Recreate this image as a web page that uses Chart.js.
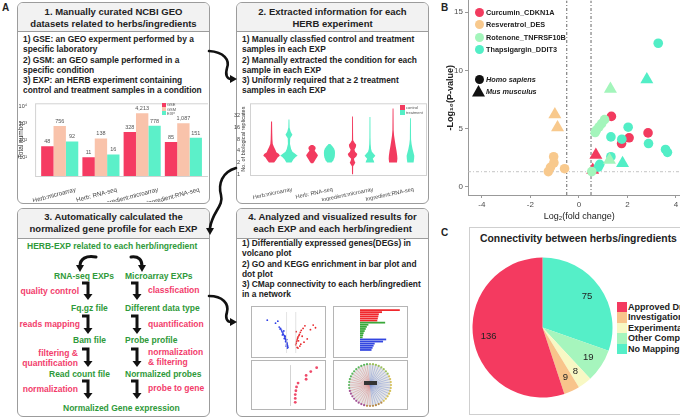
<!DOCTYPE html>
<html>
<head>
<meta charset="utf-8">
<script src="https://cdn.jsdelivr.net/npm/chart.js@4.4.1/dist/chart.umd.min.js"></script>
<style>
  body { margin:0; width:680px; height:417px; overflow:hidden; position:relative; background:#fff;
         font-family:"Liberation Sans", Arial, sans-serif; color:#222; }
  .box { position:absolute; border:1.5px solid #9c9c9c; border-radius:6px; box-sizing:border-box; background:#fff; overflow:hidden; }
  .hd { position:absolute; left:0; right:0; top:0; background:#f2f2f2; border-bottom:1.5px solid #9c9c9c;
        text-align:center; font-weight:bold; font-size:9.5px; line-height:11.5px; box-sizing:border-box; }
  .body { position:absolute; font-weight:bold; font-size:8.4px; line-height:10.3px; white-space:nowrap; }
  .t { position:absolute; font-weight:bold; font-size:8.5px; line-height:10px; white-space:nowrap; }
  .g { color:#2f9a3a; }
  .p { color:#f23d6c; }
  .lab { position:absolute; font-weight:bold; font-size:10px; }
  canvas { position:absolute; }
  .thumb { position:absolute; border:1px solid #b5b5b5; box-sizing:border-box; background:#fff; }
  .sq { position:absolute; }
  .tiny { position:absolute; font-size:4px; color:#555; white-space:nowrap; line-height:4.5px; }
  .leg { position:absolute; font-weight:bold; font-size:7.3px; white-space:nowrap; line-height:9px; }
  .pleg { position:absolute; font-weight:bold; font-size:9px; white-space:nowrap; line-height:10.4px; }
</style>
</head>
<body>

<div class="lab" style="left:2px;top:2px">A</div>
<div class="lab" style="left:441px;top:2px">B</div>
<div class="lab" style="left:441px;top:227px">C</div>

<!-- box 1 -->
<div class="box" style="left:17px;top:2px;width:193px;height:202px">
  <div class="hd" style="height:29px;padding-top:3px">1. Manually curated NCBI GEO<br>datasets related to herbs/ingredients</div>
</div>
<div class="body" style="left:23px;top:34px">1) GSE: an GEO experment performed by a<br>specific laboratory<br>2) GSM: an GEO sample performed in a<br>specific condition<br>3) EXP: an HERB experiment containing<br>control and treatment samples in a condition</div>

<!-- box 2 -->
<div class="box" style="left:236px;top:2px;width:193px;height:202px">
  <div class="hd" style="height:29px;padding-top:3px">2. Extracted information for each<br>HERB experiment</div>
</div>
<div class="body" style="left:242px;top:34px">1) Manually classfied control and treatment<br>samples in each EXP<br>2) Mannally extracted the condition for each<br>sample in each EXP<br>3) Uniformly required that ≥ 2 treatment<br>samples in each EXP</div>

<!-- box 3 -->
<div class="box" style="left:17px;top:208px;width:193px;height:209px">
  <div class="hd" style="height:30px;padding-top:2px">3. Automatically calculated the<br>normalized gene profile for each EXP</div>
</div>
<div class="t g" style="left:27px;top:241px">HERB-EXP related to each herb/ingredient</div>
<div class="t g" style="left:54px;top:271px">RNA-seq EXPs</div>
<div class="t g" style="left:125px;top:271px">Microarray EXPs</div>
<div class="t p" style="right:601px;top:286px">quality control</div>
<div class="t p" style="left:148px;top:285px">classfication</div>
<div class="t g" style="left:71px;top:303px">Fq.gz file</div>
<div class="t g" style="left:125px;top:303px">Different data type</div>
<div class="t p" style="right:600px;top:319px">reads mapping</div>
<div class="t p" style="left:148px;top:319px">quantification</div>
<div class="t g" style="left:73px;top:335px">Bam file</div>
<div class="t g" style="left:125px;top:335px">Probe profile</div>
<div class="t p" style="right:602px;top:348px;text-align:right">filtering &amp;<br>quantification</div>
<div class="t p" style="left:148px;top:347px">normalization<br>&amp; filtering</div>
<div class="t g" style="left:49px;top:369px">Read count file</div>
<div class="t g" style="left:125px;top:369px">Normalized probes</div>
<div class="t p" style="right:602px;top:384px">normalization</div>
<div class="t p" style="left:148px;top:383px">probe to gene</div>
<div class="t g" style="left:63px;top:403px">Normalized Gene expression</div>

<!-- box 4 -->
<div class="box" style="left:236px;top:208px;width:193px;height:209px">
  <div class="hd" style="height:30px;padding-top:2px">4. Analyzed and visualized results for<br>each EXP and each herb/ingredient</div>
</div>
<div class="body" style="left:242px;top:238px">1) Differentially expressed genes(DEGs) in<br>volcano plot<br>2) GO and KEGG enrichment in bar plot and<br>dot plot<br>3) CMap connectivity to each herb/ingredient<br>in a network</div>
<div class="thumb" style="left:251px;top:306px;width:75px;height:52px"></div>
<div class="thumb" style="left:333px;top:306px;width:75px;height:52px"></div>
<div class="thumb" style="left:251px;top:360px;width:75px;height:50px"></div>
<div class="thumb" style="left:333px;top:360px;width:75px;height:50px"></div>

<!-- panel C frame -->
<div style="position:absolute;left:469px;top:227px;width:230px;height:188px;border:1.5px solid #cfcfcf;box-sizing:border-box"></div>
<div style="position:absolute;left:480px;top:233px;font-weight:bold;font-size:10.4px;white-space:nowrap">Connectivity between herbs/ingredients</div>

<!-- charts -->
<canvas id="countChart" width="196" height="106" style="left:12px;top:96px"></canvas>
<canvas id="violinChart" width="194" height="113" style="left:234px;top:88px"></canvas>
<canvas id="volcanoChart" width="258" height="229" style="left:440px;top:-7px"></canvas>
<canvas id="pieChart" width="145" height="145" style="left:470px;top:255px"></canvas>
<canvas id="thumbVolcano" width="73" height="50" style="left:252px;top:307px"></canvas>
<canvas id="thumbBars" width="73" height="50" style="left:334px;top:307px"></canvas>
<canvas id="thumbDots" width="73" height="48" style="left:252px;top:361px"></canvas>
<canvas id="thumbNet" width="73" height="48" style="left:334px;top:361px"></canvas>

<!-- small legends -->
<div class="sq" style="left:162px;top:103px;width:4px;height:4px;background:#f53b62"></div>
<div class="sq" style="left:162px;top:107px;width:4px;height:4px;background:#f9c3ab"></div>
<div class="sq" style="left:162px;top:111px;width:4px;height:4px;background:#5cf0c9"></div>
<div class="tiny" style="left:167px;top:103px">GSE<br>GSM<br>EXP</div>

<div class="sq" style="left:400px;top:105px;width:5px;height:5px;background:#f23b5f"></div>
<div class="sq" style="left:400px;top:110px;width:5px;height:5px;background:#55eec6"></div>
<div class="tiny" style="left:406px;top:105px;line-height:5px">control<br>treatment</div>

<div id="volcanoLegend"></div>
<div id="pieLegend"></div>
<div style="position:absolute;left:364px;top:381px;width:13px;height:4px;background:#333"></div>

<svg width="680" height="417" style="position:absolute;left:0;top:0" fill="none" stroke="#111" stroke-width="2.6" stroke-linecap="round">
  <path d="M209,51 C224,52 230,60 227,68 C225,75 227,79 231,79"/>
  <polygon points="230,75 237,79 230,83" fill="#111" stroke="none"/>
  <path d="M236,168 C222,172 218,184 221,195 C224,206 212,212 210,228"/>
  <polygon points="206,228 210,235 214,228" fill="#111" stroke="none"/>
  <path d="M209,296 C223,296 229,304 227,312 C225,318 227,322 231,322"/>
  <polygon points="230,318 237,322 230,326" fill="#111" stroke="none"/>
  <g stroke-width="3">
    <path d="M96,257 C86,255 80,259 80,266"/>
    <polygon points="76,265 80,272 84,265" fill="#111" stroke="none"/>
    <path d="M131,257 C139,256 142,260 142,266"/>
    <polygon points="138,265 142,272 146,265" fill="#111" stroke="none"/>
  </g>
  <g id="flowArrows" stroke-width="3" stroke-linecap="butt"></g>
</svg>

<script>
// ---------- data ----------
const geoGroups = ['Herb:microarray', 'Herb: RNA-seq', 'Ingredient:microarray', 'Ingredient:RNA-seq'];
const gseCounts = [48, 11, 328, 85];
const gsmCounts = [756, 138, 4213, 1087];
const expCounts = [92, 16, 778, 151];
const countTicks = [10, 100, 1000, 10000];

const replicateTicks = [1, 2, 4, 8, 16, 32];
// violin outlines: [replicates, relative half width]
const controlViolins = [
  [[2,0.3],[2.3,0.5],[2.7,0.7],[3,0.95],[3.3,0.85],[3.7,0.55],[4.2,0.45],[5,0.28],[6,0.14],[8,0.1],[12,0.08],[23,0.06]],
  [[1.9,0.12],[2.1,0.25],[2.4,0.4],[2.8,0.6],[3.1,0.68],[3.5,0.5],[4,0.3],[4.6,0.42],[5.1,0.38],[5.7,0.12]],
  [[1,0.06],[1.6,0.07],[1.8,0.22],[2,0.32],[2.2,0.22],[2.5,0.16],[2.9,0.45],[3.3,0.55],[3.8,0.3],[4.3,0.22],[5,0.38],[5.8,0.42],[6.6,0.22],[7.5,0.07],[12,0.06],[31,0.05]],
  [[2,0.45],[2.5,0.5],[3,0.48],[4,0.4],[5,0.32],[7,0.22],[10,0.12],[14,0.07],[50,0.05]]
];
const treatmentViolins = [
  [[2,0.3],[2.4,0.5],[2.8,0.8],[3,1],[3.3,0.75],[3.8,0.4],[4.5,0.25],[6,0.12],[8.5,0.14],[10.5,0.4],[12.5,0.2],[16,0.07],[26,0.05]],
  [[2,0.25],[2.3,0.45],[2.7,0.58],[3,0.62],[3.5,0.64],[4,0.62],[4.6,0.52],[5.2,0.36],[6,0.1]],
  [[2,0.5],[2.2,0.45],[2.5,0.32],[2.8,0.52],[3,0.62],[3.3,0.45],[3.8,0.22],[4.5,0.13],[6,0.08],[9,0.06],[30,0.05]],
  [[2,0.36],[2.5,0.42],[3,0.44],[3.5,0.36],[4.5,0.24],[6,0.13],[8,0.07],[28,0.05]]
];

const compoundNames = ['Curcumin_CDKN1A', 'Resveratrol_DES', 'Rotenone_TNFRSF10B', 'Thapsigargin_DDIT3'];
const compoundColors = ['#f23b5f', '#f8c98d', '#a3f5bb', '#52eec6'];
// log2 fold change, -log10 p, species (h = Homo sapiens, m = Mus musculus)
const curcuminFC = [1.34, 2.85, 2.07, 1.76, 0.70, 0.57];
const curcuminP = [6.05, 4.63, 4.21, 3.72, 2.73, 1.45];
const curcuminSp = ['h', 'h', 'h', 'h', 'm', 'm'];
const resveratrolFC = [-0.99, -0.88, -1.04, -1.03, -1.17, -1.26, -0.59];
const resveratrolP = [6.22, 5.09, 2.59, 2.07, 1.68, 1.31, 1.56];
const resveratrolSp = ['m', 'm', 'h', 'h', 'h', 'h', 'h'];
const rotenoneFC = [1.06, 0.94, 0.83, 0.72, 0.67, 0.53, 1.30, 1.26];
const rotenoneP = [5.77, 5.43, 5.15, 4.86, 4.66, 1.31, 8.41, 2.30];
const rotenoneSp = ['h', 'h', 'h', 'h', 'h', 'h', 'm', 'm'];
const thapsigarginFC = [3.27, 2.03, 1.32, 1.77, 2.87, 3.57, 3.65, 1.32, 0.86, 0.80, 2.80, 1.80];
const thapsigarginP = [12.33, 5.12, 4.29, 4.09, 3.72, 3.21, 2.96, 2.59, 1.93, 1.70, 9.21, 2.02];
const thapsigarginSp = ['h', 'h', 'h', 'h', 'h', 'h', 'h', 'h', 'h', 'h', 'm', 'm'];
const fcCutoffs = [-0.5, 0.5];
const pCutoff = 1.3;
const fcTicks = [-4, -2, 0, 2, 4];
const pTicks = [0, 5, 10, 15];

const drugClasses = ['Approved Drug', 'Investigational Drug', 'Experimental Drug', 'Other Compound', 'No Mapping'];
const drugCounts = [136, 9, 8, 19, 75];
const drugColors = ['#f43a60', '#f8c48b', '#f8f8c4', '#a6f5bd', '#55efc8'];

// thumbnails in box 4
const thumbBlueFC = [-5.2, -3.4, -2.9, -2.6, -2.3, -2.1, -2.0, -1.8, -1.7, -1.5, -1.4, -1.3, -1.2, -1.1, -1.0, -0.9, -0.9, -0.8, -0.8, -0.7, -1.6, -1.9, -2.4, -1.2, -1.0, -0.95, -0.85, -1.3, -1.5, -1.1];
const thumbBlueP = [9.5, 8.6, 9.2, 7.4, 7.0, 6.5, 6.0, 5.6, 5.2, 4.8, 4.4, 4.0, 3.6, 3.2, 2.8, 2.5, 2.1, 1.8, 1.5, 1.2, 6.2, 5.0, 6.8, 3.0, 2.2, 3.6, 1.0, 4.6, 3.9, 1.6];
const thumbRedFC = [4.8, 5.3, 4.2, 3.0, 2.6, 2.2, 2.0, 1.8, 1.7, 1.5, 1.4, 1.3, 1.2, 1.1, 1.0, 1.6, 2.4, 2.8, 3.5, 1.9, 1.3, 1.1, 1.5, 2.1];
const thumbRedP = [8.0, 7.2, 6.6, 7.8, 7.0, 6.4, 5.8, 5.2, 4.8, 4.4, 4.0, 3.5, 3.0, 2.5, 2.0, 3.2, 4.6, 2.8, 3.8, 1.6, 1.2, 6.0, 1.0, 2.2];
const thumbTerms = ['BP1', 'BP2', 'BP3', 'BP4', 'BP5', 'BP6', 'CC1', 'CC2', 'CC3', 'CC4', 'CC5', 'CC6', 'CC7', 'CC8', 'MF1', 'MF2', 'MF3', 'MF4', 'MF5', 'MF6'];
const thumbScores = [38, 21, 18, 17.5, 17, 16.5, 24, 8, 6.5, 5.5, 4.5, 3.5, 3, 2.5, 25, 22, 14, 13, 12, 11];
const thumbDotRatio = [0.86, 0.67, 0.52, 0.52, 0.26, 0.21, 0.19, 0.17, 0.17, 0.17];
const thumbDotRank = [1, 2, 3, 4, 5, 6, 7, 8, 9, 10];
const netNodes = 44;

Chart.defaults.font.family = '"Liberation Sans", Arial, sans-serif';
Chart.defaults.animation = false;
Chart.defaults.responsive = false;
Chart.defaults.plugins.legend.display = false;
Chart.defaults.plugins.tooltip.enabled = false;

const supDigits = { 1: '¹', 2: '²', 3: '³', 4: '⁴' };
const greyTxt = '#4d4d4d';

// light frame around a plot area
const plotFrame = {
  id: 'plotFrame',
  beforeDraw(chart, args, opts) {
    const { left, right, top, bottom } = chart.chartArea;
    const ctx = chart.ctx;
    ctx.save();
    ctx.strokeStyle = opts.color || '#d2d2d2';
    ctx.lineWidth = 1;
    ctx.strokeRect(left - opts.padLeft + 0.5, top + 0.5, right - left + opts.padLeft + opts.padRight, bottom - top);
    ctx.restore();
  }
};

// numbers on top of the count bars
const barValueLabels = {
  id: 'barValueLabels',
  afterDatasetsDraw(chart) {
    const ctx = chart.ctx;
    ctx.save();
    ctx.font = '5.5px "Liberation Sans", Arial';
    ctx.fillStyle = '#555';
    ctx.textAlign = 'center';
    chart.data.datasets.forEach((ds, i) => {
      chart.getDatasetMeta(i).data.forEach((bar, j) => {
        ctx.fillText(ds.data[j].toLocaleString('en-US'), bar.x, bar.y - 3);
      });
    });
    ctx.restore();
  }
};

new Chart(document.getElementById('countChart'), {
  type: 'bar',
  data: {
    labels: geoGroups,
    datasets: [
      { label: 'GSE', data: gseCounts, backgroundColor: '#f53b62' },
      { label: 'GSM', data: gsmCounts, backgroundColor: '#f9c3ab' },
      { label: 'EXP', data: expCounts, backgroundColor: '#5cf0c9' }
    ]
  },
  options: {
    layout: { padding: { right: 4 } },
    datasets: { bar: { categoryPercentage: 0.9, barPercentage: 1 } },
    scales: {
      x: {
        grid: { display: false }, border: { display: false },
        ticks: { autoSkip: false, minRotation: 15, maxRotation: 15, labelOffset: 16, padding: 2, font: { size: 6.2 }, color: '#444' },
        afterFit: a => { a.height = 26; }
      },
      y: {
        type: 'logarithmic', min: 0.87, max: 16000,
        afterBuildTicks: a => { a.ticks = countTicks.map(value => ({ value })); },
        grid: { display: false }, border: { display: false },
        ticks: { autoSkip: false, font: { size: 5.5 }, color: '#444', padding: 4, callback: v => '10' + supDigits[Math.round(Math.log10(v))] },
        title: { display: true, text: 'Total number', font: { size: 6.5 }, color: '#333', padding: { top: 1, bottom: 0 } },
        afterFit: a => { a.width = 23; }
      }
    },
    plugins: { plotFrame: { padLeft: 4, padRight: 4 } }
  },
  plugins: [plotFrame, barValueLabels]
});

// violins drawn around each (invisible) floating bar
const violinDraw = {
  id: 'violinDraw',
  afterDatasetsDraw(chart) {
    const ctx = chart.ctx, yScale = chart.scales.y;
    [controlViolins, treatmentViolins].forEach((set, di) => {
      const meta = chart.getDatasetMeta(di);
      ctx.fillStyle = chart.data.datasets[di].borderColor;
      set.forEach((prof, gi) => {
        const cx = meta.data[gi].x, half = meta.data[gi].width / 2;
        ctx.beginPath();
        prof.forEach(([v, w], k) => {
          const y = yScale.getPixelForValue(v);
          if (k) ctx.lineTo(cx + w * half, y); else ctx.moveTo(cx + w * half, y);
        });
        for (let k = prof.length - 1; k >= 0; k--) {
          ctx.lineTo(cx - prof[k][1] * half, yScale.getPixelForValue(prof[k][0]));
        }
        ctx.closePath();
        ctx.fill();
      });
    });
  }
};

new Chart(document.getElementById('violinChart'), {
  type: 'bar',
  data: {
    labels: geoGroups,
    datasets: [
      { label: 'control', data: controlViolins.map(v => [v[0][0], v[v.length - 1][0]]), backgroundColor: 'rgba(0,0,0,0)', borderColor: '#f23b5f' },
      { label: 'treatment', data: treatmentViolins.map(v => [v[0][0], v[v.length - 1][0]]), backgroundColor: 'rgba(0,0,0,0)', borderColor: '#55eec6' }
    ]
  },
  options: {
    layout: { padding: { right: 6 } },
    datasets: { bar: { categoryPercentage: 0.86, barPercentage: 1, borderWidth: 0 } },
    scales: {
      x: {
        grid: { display: false }, border: { display: false },
        ticks: { autoSkip: false, minRotation: 12, maxRotation: 12, labelOffset: 12, padding: 3, font: { size: 5.6 }, color: '#444' },
        afterFit: a => { a.height = 26; }
      },
      y: {
        type: 'logarithmic', min: 0.95, max: 68,
        afterBuildTicks: a => { a.ticks = replicateTicks.map(value => ({ value })); },
        grid: { display: false }, border: { display: false },
        ticks: { autoSkip: false, font: { size: 5.5 }, color: '#444', padding: 12, callback: v => String(v) },
        title: { display: true, text: 'No. of biological replicates', font: { size: 5.6 }, color: '#333', padding: { top: 6, bottom: 0 } },
        afterFit: a => { a.width = 26; }
      }
    },
    plugins: { plotFrame: { padLeft: 10, padRight: 4 } }
  },
  plugins: [plotFrame, violinDraw]
});

// panel B volcano
function volcanoSet(label, fc, p, sp, color) {
  return {
    label, order: 0,
    data: fc.map((x, i) => ({ x, y: p[i] })),
    backgroundColor: color, borderWidth: 0,
    pointStyle: sp.map(s => (s === 'm' ? 'triangle' : 'circle')),
    pointRadius: sp.map(s => (s === 'm' ? 7.5 : 4.8))
  };
}
const cutoffLine = (pts, color) => ({
  data: pts, showLine: true, order: 5, borderColor: color, borderWidth: 0.9,
  borderDash: [3, 2, 1, 2], pointRadius: 0, fill: false
});

new Chart(document.getElementById('volcanoChart'), {
  type: 'scatter',
  data: {
    datasets: [
      cutoffLine([{ x: fcCutoffs[0], y: -0.7 }, { x: fcCutoffs[0], y: 16 }], '#555'),
      cutoffLine([{ x: fcCutoffs[1], y: -0.7 }, { x: fcCutoffs[1], y: 16 }], '#555'),
      cutoffLine([{ x: -4.57, y: pCutoff }, { x: 4.6, y: pCutoff }], '#bdbdbd'),
      volcanoSet(compoundNames[1], resveratrolFC, resveratrolP, resveratrolSp, compoundColors[1]),
      volcanoSet(compoundNames[2], rotenoneFC, rotenoneP, rotenoneSp, compoundColors[2]),
      volcanoSet(compoundNames[3], thapsigarginFC, thapsigarginP, thapsigarginSp, compoundColors[3]),
      volcanoSet(compoundNames[0], curcuminFC, curcuminP, curcuminSp, compoundColors[0])
    ]
  },
  options: {
    layout: { padding: { right: 2 } },
    scales: {
      x: {
        type: 'linear', min: -4.57, max: 4.6,
        afterBuildTicks: a => { a.ticks = fcTicks.map(value => ({ value })); },
        grid: { drawOnChartArea: false, tickLength: 3, color: '#999' },
        border: { color: '#999' },
        ticks: { autoSkip: false, font: { size: 8 }, color: greyTxt, padding: 2 },
        title: { display: true, text: 'Log₂(fold change)', font: { size: 9 }, color: '#222', padding: 0 },
        afterFit: a => { a.height = 27; }
      },
      y: {
        min: -0.7, max: 16,
        afterBuildTicks: a => { a.ticks = pTicks.map(value => ({ value })); },
        grid: { drawOnChartArea: false, tickLength: 3, color: '#999' },
        border: { color: '#999' },
        ticks: { autoSkip: false, font: { size: 8 }, color: greyTxt, padding: 2 },
        title: { display: true, text: '-Log₁₀(P-value)', font: { size: 9, weight: 'bold' }, color: '#222', padding: { top: 5, bottom: 0 } },
        afterFit: a => { a.width = 28; }
      }
    }
  }
});

// panel B legend
(function () {
  const host = document.getElementById('volcanoLegend');
  const rows = [12, 24, 37, 49];
  let html = '';
  compoundNames.forEach((name, i) => {
    html += `<div class="sq" style="left:474.5px;top:${rows[i] - 4.5}px;width:9px;height:9px;border-radius:50%;background:${compoundColors[i]}"></div>`;
    html += `<div class="leg" style="left:486px;top:${rows[i] - 4.5}px">${name}</div>`;
  });
  html += `<div class="sq" style="left:474.5px;top:74.5px;width:9px;height:9px;border-radius:50%;background:#111"></div>`;
  html += `<div class="leg" style="left:486px;top:74.5px;font-style:italic">Homo sapiens</div>`;
  html += `<svg class="sq" style="left:472px;top:85px" width="13" height="12"><polygon points="6.5,0 13,11.5 0,11.5" fill="#111"/></svg>`;
  html += `<div class="leg" style="left:486px;top:86.5px;font-style:italic">Mus musculus</div>`;
  host.innerHTML = html;
})();

// panel C pie, drawn clockwise from 12 o'clock: No Mapping first
const pieLabels = {
  id: 'pieLabels',
  afterDatasetsDraw(chart) {
    const ctx = chart.ctx;
    ctx.save();
    ctx.font = '9.5px "Liberation Sans", Arial';
    ctx.fillStyle = '#222';
    ctx.textAlign = 'center';
    ctx.textBaseline = 'middle';
    chart.getDatasetMeta(0).data.forEach((arc, i) => {
      const { x, y, startAngle, endAngle, outerRadius } = arc.getProps(['x', 'y', 'startAngle', 'endAngle', 'outerRadius']);
      const mid = (startAngle + endAngle) / 2;
      const r = outerRadius * 0.78;
      ctx.fillText(String(chart.data.datasets[0].data[i]), x + Math.cos(mid) * r, y + Math.sin(mid) * r);
    });
    ctx.restore();
  }
};
new Chart(document.getElementById('pieChart'), {
  type: 'pie',
  data: {
    labels: drugClasses.slice().reverse(),
    datasets: [{ data: drugCounts.slice().reverse(), backgroundColor: drugColors.slice().reverse(), borderWidth: 0 }]
  },
  options: { radius: 70, layout: { padding: 0 } },
  plugins: [pieLabels]
});

(function () {
  const host = document.getElementById('pieLegend');
  let html = '';
  drugClasses.forEach((name, i) => {
    const y = 302 + i * 10.4;
    html += `<div class="sq" style="left:617px;top:${y}px;width:10px;height:10.4px;background:${drugColors[i]}"></div>`;
    html += `<div class="pleg" style="left:628px;top:${y}px">${name}</div>`;
  });
  host.innerHTML = html;
})();

// flow chart arrows in box 3
(function () {
  const g = document.getElementById('flowArrows');
  const rows = [[283, 300], [316, 334], [349, 367], [381, 399]];
  let s = '';
  [88, 137].forEach(x => {
    rows.forEach(([y0, y1]) => {
      s += `<path d="M${x - 6},${y0} H${x} V${y1 - 5}"/>`;
      s += `<polygon points="${x - 4.5},${y1 - 6} ${x},${y1} ${x + 4.5},${y1 - 6}" fill="#111" stroke="none"/>`;
    });
  });
  g.innerHTML = s;
})();

// box 4 thumbnails
const hidden = { display: false };
new Chart(document.getElementById('thumbVolcano'), {
  type: 'scatter',
  data: {
    datasets: [
      { data: [{ x: -1, y: -0.5 }, { x: -1, y: 12 }], showLine: true, borderColor: '#d0d0d0', borderWidth: 0.6, pointRadius: 0 },
      { data: [{ x: 1, y: -0.5 }, { x: 1, y: 12 }], showLine: true, borderColor: '#d0d0d0', borderWidth: 0.6, pointRadius: 0 },
      { data: thumbBlueFC.map((x, i) => ({ x, y: thumbBlueP[i] })), backgroundColor: '#2f3fe6', pointRadius: 0.9, borderWidth: 0 },
      { data: thumbRedFC.map((x, i) => ({ x, y: thumbRedP[i] })), backgroundColor: '#e8262a', pointRadius: 0.9, borderWidth: 0 }
    ]
  },
  options: {
    layout: { padding: { left: 7, right: 2, top: 5, bottom: 3 } },
    scales: { x: { ...hidden, min: -7, max: 6.5 }, y: { ...hidden, min: -0.5, max: 12 } }
  }
});

new Chart(document.getElementById('thumbBars'), {
  type: 'bar',
  data: {
    labels: thumbTerms,
    datasets: [{
      data: thumbScores,
      backgroundColor: thumbTerms.map(t => (t.startsWith('BP') ? '#f0282d' : t.startsWith('CC') ? '#3aa83a' : '#3346e0')),
      barPercentage: 0.85, categoryPercentage: 1
    }]
  },
  options: {
    indexAxis: 'y',
    layout: { padding: { left: 26, right: 3, top: 2, bottom: 6 } },
    scales: { x: { ...hidden, min: 0, max: 42 }, y: hidden }
  }
});

new Chart(document.getElementById('thumbDots'), {
  type: 'scatter',
  data: { datasets: [{ data: thumbDotRatio.map((x, i) => ({ x, y: thumbDotRank[i] })), backgroundColor: '#ef4a6a', pointRadius: 1.4, borderWidth: 0 }] },
  options: {
    layout: { padding: { left: 30, right: 2, top: 2, bottom: 2 } },
    scales: {
      x: { ...hidden, min: 0, max: 1 },
      y: { min: 0.3, max: 10.7, reverse: true, grid: { display: false }, ticks: { display: false }, border: { color: '#c8c8c8', width: 0.8 } }
    }
  }
});

new Chart(document.getElementById('thumbNet'), {
  type: 'radar',
  data: {
    labels: Array.from({ length: netNodes }, (_, i) => 'n' + i),
    datasets: [{
      data: Array(netNodes).fill(1),
      borderColor: 'rgba(0,0,0,0)', borderWidth: 0, pointRadius: 1.1,
      pointBackgroundColor: Array.from({ length: netNodes }, (_, i) =>
        i < 8 ? '#9bc15b' : i < 18 ? '#d6c25a' : i < 24 ? '#b88b4a' : i < 32 ? '#a55397' : '#5bb85e')
    }]
  },
  options: {
    layout: { padding: { top: 3, bottom: 3 } },
    scales: {
      r: {
        min: 0, max: 1,
        ticks: { display: false }, grid: { display: false }, pointLabels: { display: false },
        angleLines: { lineWidth: 0.5, color: c => (c.index < 22 ? '#8da4ea' : '#f09a9a') }
      }
    }
  }
});
</script>
</body>
</html>
